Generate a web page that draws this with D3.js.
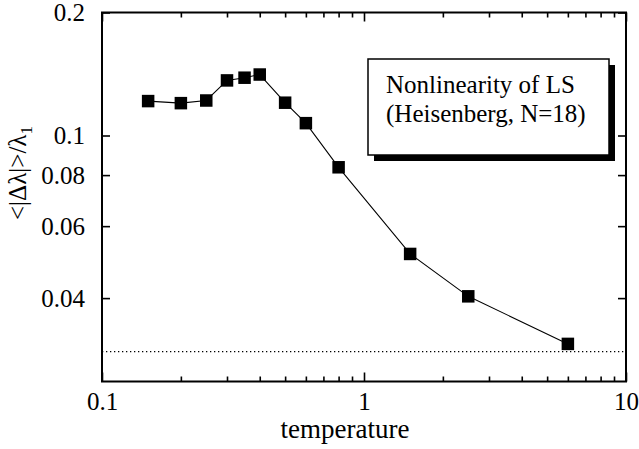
<!DOCTYPE html>
<html>
<head>
<meta charset="utf-8">
<script src="https://cdn.jsdelivr.net/npm/d3@7/dist/d3.min.js"></script>
<style>
  html, body { margin: 0; padding: 0; background: #fff; }
  svg { display: block; }
  text { font-family: "Liberation Serif", "Times New Roman", serif; fill: #000; }
</style>
</head>
<body>
<svg id="chart" width="639" height="449"></svg>
<script>
// Temperature values and the mean nonlinearity of the level statistics
const temperature = [0.15, 0.2, 0.25, 0.3, 0.35, 0.4, 0.5, 0.6, 0.8, 1.5, 2.5, 6];
const nonlinearity = [0.1214, 0.1200, 0.1218, 0.1364, 0.1385, 0.1410, 0.1203, 0.1072, 0.0836, 0.0513, 0.0404, 0.0309];
const baselineValue = 0.0296;

const xTickLabels = [0.1, 1, 10];
const xMinorTicks = [0.2, 0.3, 0.4, 0.5, 0.6, 0.7, 0.8, 0.9, 2, 3, 4, 5, 6, 7, 8, 9];
const yTickLabels = [0.04, 0.06, 0.08, 0.1, 0.2];
const legendLines = ["Nonlinearity of LS", "(Heisenberg, N=18)"];

const svg = d3.select("#chart");
const plotLeft = 102, plotRight = 626, plotTop = 12.5, plotBottom = 381.5;

const x = d3.scaleLog().domain([0.1, 10]).range([plotLeft, plotRight]);
const y = d3.scaleLog().domain([0.025, 0.2]).range([plotBottom, plotTop]);

const fmt = v => String(v);

// Inward ticks on all four sides
const axes = svg.append("g");
axes.append("g").attr("transform", `translate(0,${plotBottom})`)
  .call(d3.axisBottom(x).tickValues(xTickLabels).tickSize(-9).tickFormat(fmt).tickPadding(11))
  .call(g => g.append("g").call(d3.axisBottom(x).tickValues(xMinorTicks).tickSize(-5).tickFormat("")));
axes.append("g").attr("transform", `translate(0,${plotTop})`)
  .call(d3.axisTop(x).tickValues(xTickLabels).tickSize(-9).tickFormat(""))
  .call(g => g.append("g").call(d3.axisTop(x).tickValues(xMinorTicks).tickSize(-5).tickFormat("")));
axes.append("g").attr("transform", `translate(${plotLeft},0)`)
  .call(d3.axisLeft(y).tickValues(yTickLabels).tickSize(-8).tickFormat(fmt).tickPadding(17));
axes.append("g").attr("transform", `translate(${plotRight},0)`)
  .call(d3.axisRight(y).tickValues(yTickLabels).tickSize(-8).tickFormat(""));

axes.selectAll(".domain").remove();
axes.selectAll(".tick line").attr("stroke", "#000").attr("stroke-width", 1.6);
axes.selectAll(".tick text").attr("font-size", 25).attr("fill", "#000")
  .attr("font-family", "'Liberation Serif', serif");

// Frame
svg.append("rect")
  .attr("x", plotLeft).attr("y", plotTop)
  .attr("width", plotRight - plotLeft).attr("height", plotBottom - plotTop)
  .attr("fill", "none").attr("stroke", "#000").attr("stroke-width", 2);

// Dotted reference level
svg.append("line")
  .attr("x1", plotLeft).attr("x2", plotRight)
  .attr("y1", y(baselineValue)).attr("y2", y(baselineValue))
  .attr("stroke", "#000").attr("stroke-width", 1.2)
  .attr("stroke-dasharray", "1.3,2.7");

// Data line and square markers
const pts = temperature.map((t, i) => [t, nonlinearity[i]]);
svg.append("path")
  .datum(pts)
  .attr("fill", "none").attr("stroke", "#000").attr("stroke-width", 1.1)
  .attr("d", d3.line().x(d => x(d[0])).y(d => y(d[1])));

const s = 12.5;
svg.append("g").selectAll("rect").data(pts).join("rect")
  .attr("x", d => x(d[0]) - s / 2).attr("y", d => y(d[1]) - s / 2)
  .attr("width", s).attr("height", s).attr("fill", "#000");

// Legend box with drop shadow
const lx = 368, ly = 59, lw = 241, lh = 96;
svg.append("rect").attr("x", lx + 6).attr("y", ly + 6).attr("width", lw).attr("height", lh).attr("fill", "#000");
svg.append("rect").attr("x", lx).attr("y", ly).attr("width", lw).attr("height", lh)
  .attr("fill", "#fff").attr("stroke", "#000").attr("stroke-width", 1.5);
svg.append("g").selectAll("text").data(legendLines).join("text")
  .attr("x", 386).attr("y", (d, i) => 93 + i * 29)
  .attr("font-size", 25).text(d => d);

// Axis titles
svg.append("text")
  .attr("x", 345).attr("y", 438)
  .attr("text-anchor", "middle").attr("font-size", 27)
  .text("temperature");

const yl = svg.append("text")
  .attr("transform", "translate(26,173) rotate(-90)")
  .attr("text-anchor", "middle").attr("font-size", 25);
yl.append("tspan").text("<|Δλ|>/λ");
yl.append("tspan").attr("font-size", 17).attr("dy", 6).text("1");
</script>
</body>
</html>
